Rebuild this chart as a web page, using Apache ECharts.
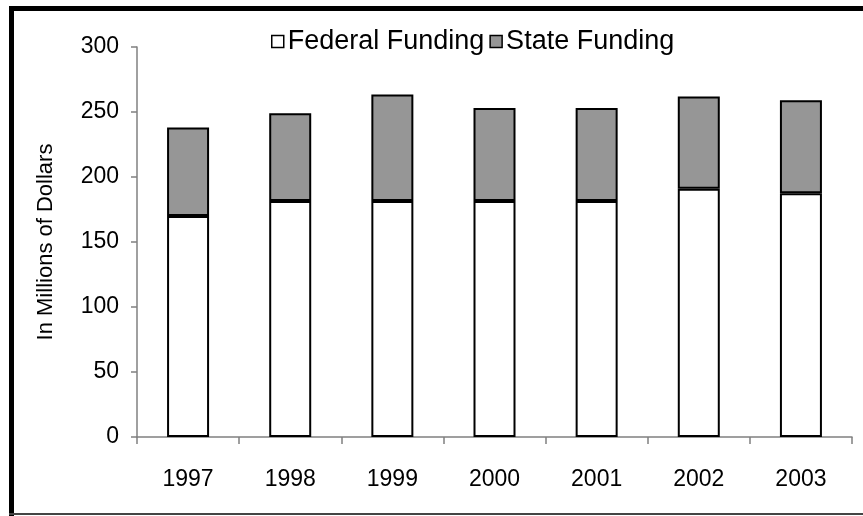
<!DOCTYPE html>
<html>
<head>
<meta charset="utf-8">
<script src="https://cdn.jsdelivr.net/npm/echarts@6/dist/echarts.min.js"></script>
<style>
html,body{margin:0;padding:0;background:#fff;}
#c{width:863px;height:516px;}
</style>
</head>
<body>
<div id="c"></div>
<script>
const years = ['1997','1998','1999','2000','2001','2002','2003'];
const federalFunding = [170, 181.5, 181.5, 181.5, 181.5, 191, 187.5];
const stateFunding = [68, 67.5, 82, 71.5, 71.5, 71, 71.5];
const yTicks = {min: 0, max: 300, interval: 50};

const chart = echarts.init(document.getElementById('c'), null, {renderer: 'canvas'});
const font = 'Arial, "Liberation Sans", sans-serif';
chart.setOption({
  backgroundColor: '#fff',
  animation: false,
  graphic: [
    {type: 'rect', shape: {x: 9, y: 6, width: 5, height: 510}, style: {fill: '#000'}, z: 100},
    {type: 'rect', shape: {x: 9, y: 6, width: 854, height: 5}, style: {fill: '#000'}, z: 100},
    {type: 'rect', shape: {x: 9, y: 513, width: 854, height: 2}, style: {fill: '#444'}, z: 100}
  ],
  legend: {
    left: 266, top: 23, icon: 'rect',
    itemWidth: 12, itemHeight: 12, itemGap: 5,
    textStyle: {fontFamily: font, fontSize: 27, color: '#000', padding: [0, 0, 0, -1]},
    data: [
      {name: 'Federal Funding', itemStyle: {color: '#fff', borderColor: '#000', borderWidth: 1.5}},
      {name: 'State Funding', itemStyle: {color: '#969696', borderColor: '#000', borderWidth: 1.5}}
    ]
  },
  grid: {left: 137, right: 11, top: 47, bottom: 79, containLabel: false},
  xAxis: {
    type: 'category', data: years,
    axisLine: {lineStyle: {color: '#808080', width: 1.5}},
    axisTick: {show: true, inside: false, length: 7, alignWithLabel: false, lineStyle: {color: '#808080', width: 1.5}},
    axisLabel: {fontFamily: font, fontSize: 23, color: '#000', margin: 31}
  },
  yAxis: {
    type: 'value', min: yTicks.min, max: yTicks.max, interval: yTicks.interval,
    name: 'In Millions of Dollars', nameLocation: 'middle', nameGap: 80, nameRotate: 90,
    nameTextStyle: {fontFamily: font, fontSize: 22, color: '#000'},
    splitLine: {show: false},
    axisLine: {show: true, lineStyle: {color: '#808080', width: 1.5}},
    axisTick: {show: true, inside: false, length: 6, lineStyle: {color: '#808080', width: 1.5}},
    axisLabel: {fontFamily: font, fontSize: 23, color: '#000', margin: 18}
  },
  series: [
    {name: 'Federal Funding', type: 'bar', stack: 'f', barWidth: 42, data: federalFunding,
     itemStyle: {color: '#fff', borderColor: '#000', borderWidth: 2}},
    {name: 'State Funding', type: 'bar', stack: 'f', barWidth: 42, data: stateFunding,
     itemStyle: {color: '#969696', borderColor: '#000', borderWidth: 2}}
  ]
});
</script>
</body>
</html>
